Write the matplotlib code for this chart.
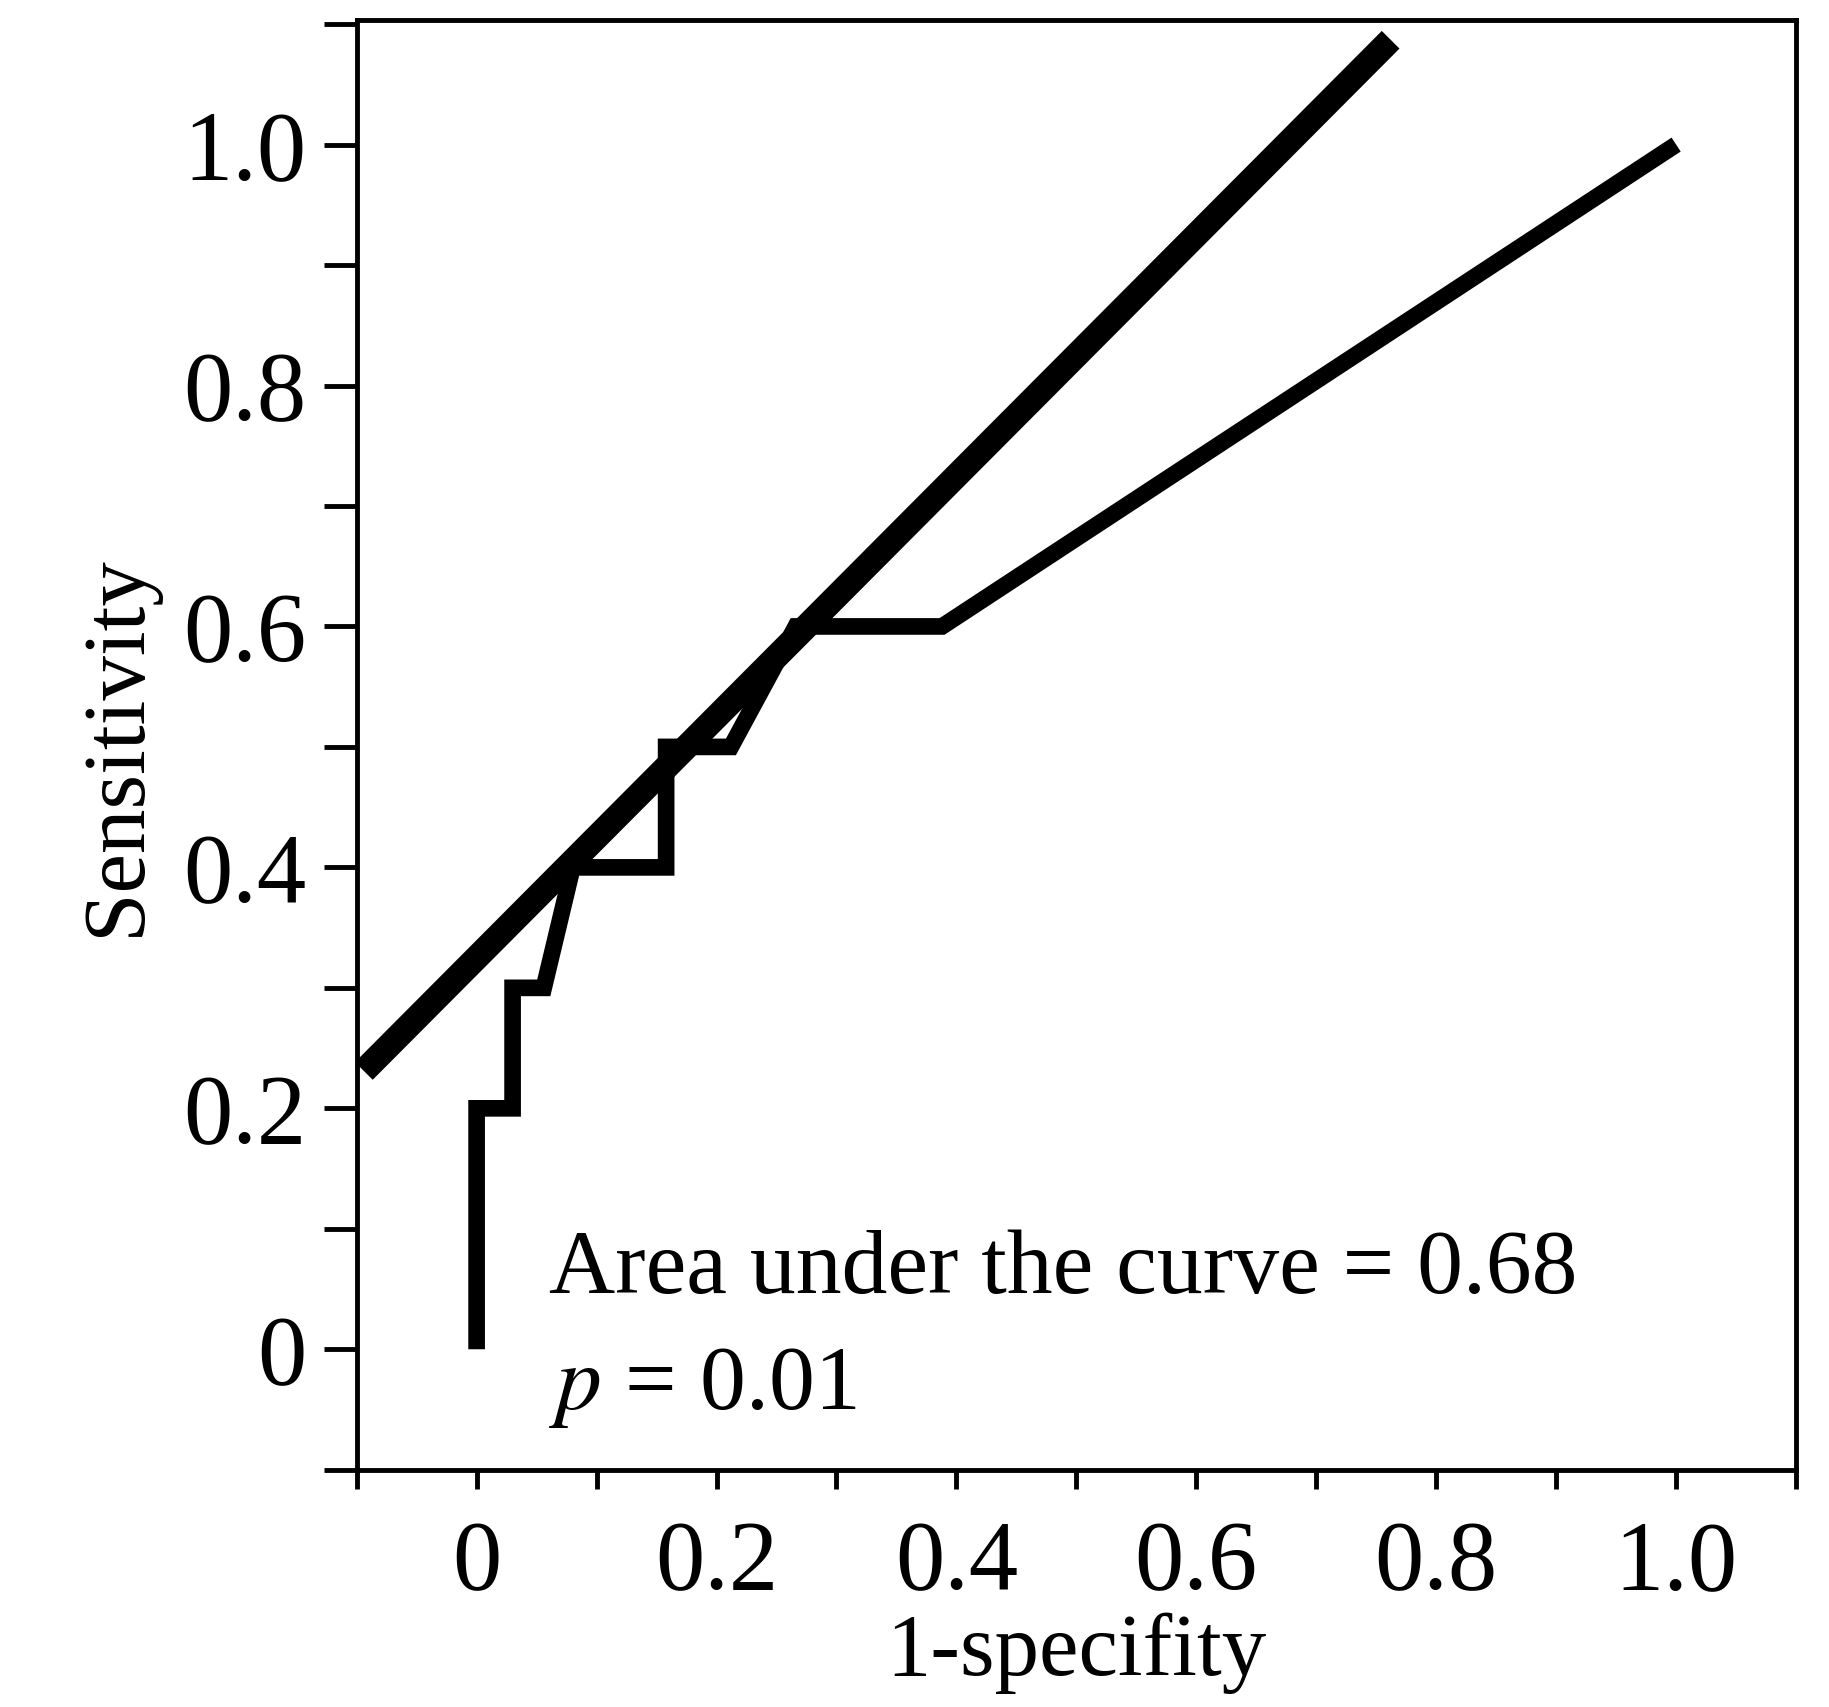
import matplotlib
matplotlib.use("Agg")
from matplotlib import pyplot as plt
from matplotlib.ticker import MultipleLocator

# ROC curve
roc_x = [0.0, 0.0, 0.03, 0.03, 0.056, 0.08, 0.158, 0.158, 0.212, 0.25, 0.266, 0.388, 1.0]
roc_y = [0.0, 0.2, 0.2, 0.3, 0.3, 0.4, 0.4, 0.5, 0.5, 0.57, 0.6, 0.6, 1.0]

# thick reference line
ref_x = [-0.094, 0.762]
ref_y = [0.231, 1.087]

x_ticks = [0, 0.2, 0.4, 0.6, 0.8, 1.0]
x_labels = ["0", "0.2", "0.4", "0.6", "0.8", "1.0"]
y_ticks = [0, 0.2, 0.4, 0.6, 0.8, 1.0]
y_labels = ["0", "0.2", "0.4", "0.6", "0.8", "1.0"]

plt.rcParams["font.family"] = ["Liberation Serif", "DejaVu Serif"]
plt.rcParams["mathtext.fontset"] = "stix"

fig = plt.figure(figsize=(18.29, 17.07), dpi=100)
ax = fig.add_axes([0.195, 0.139, 0.787, 0.849])

ax.plot(ref_x, ref_y, color="black", linewidth=18, solid_capstyle="butt")
ax.plot(roc_x, roc_y, color="black", linewidth=12, solid_joinstyle="miter", solid_capstyle="butt")

ax.set_xlim(-0.1, 1.1)
ax.set_ylim(-0.1, 1.103)
ax.set_xticks(x_ticks, x_labels)
ax.set_yticks(y_ticks, y_labels)
ax.xaxis.set_minor_locator(MultipleLocator(0.1))
ax.yaxis.set_minor_locator(MultipleLocator(0.1))
ax.tick_params(which="both", direction="out", width=3.5, labelsize=71, color="black")
ax.tick_params(axis="y", which="both", length=24, pad=12)
ax.tick_params(axis="x", which="both", length=14, pad=22)
for s in ax.spines.values():
    s.set_linewidth(3.5)

ax.set_xlabel("1-specifity", fontsize=64, labelpad=2)
ax.set_ylabel("Sensitivity", fontsize=64, labelpad=18)

ax.text(0.06, 0.047, "Area under the curve = 0.68", fontsize=66, ha="left", va="baseline")
ax.text(0.06, -0.05, "$p$ = 0.01", fontsize=66, ha="left", va="baseline")

fig.savefig("out.png", dpi=100)
